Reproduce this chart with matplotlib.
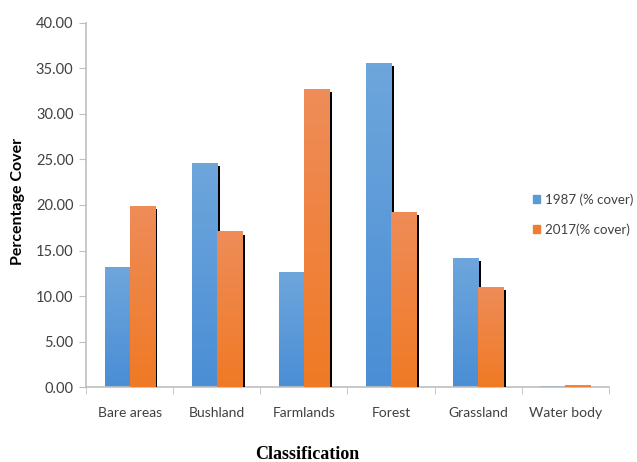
import numpy as np
import matplotlib.pyplot as plt
from matplotlib.colors import LinearSegmentedColormap
from matplotlib.patches import Patch

categories = ['Bare areas', 'Bushland', 'Farmlands', 'Forest', 'Grassland', 'Water body']
cover_1987 = [13.2, 24.6, 12.6, 35.6, 14.2, 0.12]
cover_2017 = [19.9, 17.1, 32.7, 19.2, 11.0, 0.2]
yticks = [0, 5, 10, 15, 20, 25, 30, 35, 40]

blue = '#5B9BD5'
orange = '#ED7D31'
text_col = '#404040'
axis_col = '#BFBFBF'

fig = plt.figure(figsize=(6.37, 4.62), dpi=100)
ax = fig.add_axes([0.135, 0.1617, 0.821, 0.7892])

x = np.arange(len(categories))
w = 0.287

def gradient_bars(xpos, vals, top_col, bot_col, z):
    cmap = LinearSegmentedColormap.from_list('g', [bot_col, top_col])
    # black shadow behind the right edge
    for xi, v in zip(xpos, vals):
        if v > 1:
            ax.bar(xi + 0.032, v - 0.35, w, bottom=0, color='black', zorder=z)
    bars = ax.bar(xpos, vals, w, color=bot_col, zorder=z + 0.1)
    for b in bars:
        h = b.get_height()
        if h <= 0:
            continue
        im = ax.imshow(np.linspace(0, 1, 64).reshape(-1, 1), cmap=cmap, aspect='auto',
                       origin='lower',
                       extent=[b.get_x(), b.get_x() + b.get_width(), 0, h],
                       zorder=z + 0.2)
        im.set_clip_path(b)
    return bars

b1 = gradient_bars(x - w / 2, cover_1987, '#6EA6DC', '#4A8ED5', 2)
b2 = gradient_bars(x + w / 2, cover_2017, '#EE8C58', '#F07A25', 3)

ax.set_xlim(-0.5, 5.5)
ax.set_ylim(0, 40)

ax.set_yticks(yticks)
ax.set_yticklabels(['%.2f' % t for t in yticks], fontsize=10.5, color=text_col, family='Lato')
ax.set_xticks(x)
ax.set_xticklabels(categories, fontsize=10, color=text_col, family='Lato')
ax.set_xticks(np.arange(-0.5, 6.0, 1.0), minor=True)
ax.tick_params(axis='x', which='major', length=0, pad=14)
ax.tick_params(axis='x', which='minor', length=5, color=axis_col, direction='out')
ax.tick_params(axis='y', length=5, color=axis_col, direction='out', pad=4)

for s in ['top', 'right']:
    ax.spines[s].set_visible(False)
for s in ['left', 'bottom']:
    ax.spines[s].set_color(axis_col)
    ax.spines[s].set_linewidth(1.2)

fig.text(0.028, 0.565, 'Percentage Cover', rotation=90, ha='center', va='center',
         fontsize=11.5, fontweight='bold', family='Lato', color='black')
fig.text(0.483, 0.017, 'Classification', ha='center', va='center',
         fontsize=13, fontweight='bold', family='Liberation Serif', color='black')

handles = [Patch(color=blue), Patch(color=orange)]
leg = fig.legend(handles, ['1987 (% cover)', '2017(% cover)'], loc='center left',
                 bbox_to_anchor=(0.836, 0.535), frameon=False,
                 handlelength=0.55, handleheight=0.55, handletextpad=0.35,
                 labelspacing=1.3, borderaxespad=0, borderpad=0,
                 prop={'family': 'Lato', 'size': 9.6})
for t in leg.get_texts():
    t.set_color(text_col)

fig.savefig('out.png', dpi=100)
